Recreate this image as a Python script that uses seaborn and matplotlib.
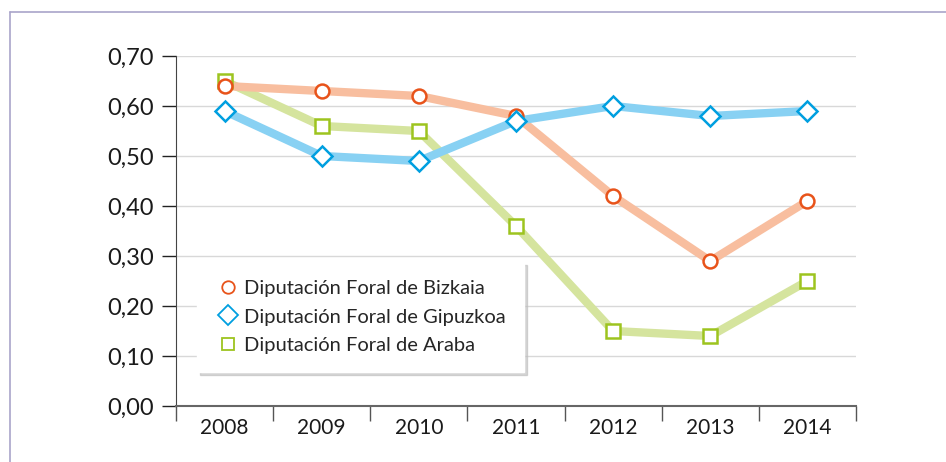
import matplotlib
matplotlib.use("Agg")
import matplotlib.pyplot as plt
from matplotlib.lines import Line2D
from matplotlib.ticker import FixedLocator, FuncFormatter
import seaborn as sns

# datos
anios = ["2008", "2009", "2010", "2011", "2012", "2013", "2014"]
bizkaia = [0.64, 0.63, 0.62, 0.58, 0.42, 0.29, 0.41]
gipuzkoa = [0.59, 0.50, 0.49, 0.57, 0.60, 0.58, 0.59]
araba = [0.65, 0.56, 0.55, 0.36, 0.15, 0.14, 0.25]
nombres = ["Diputación Foral de Bizkaia", "Diputación Foral de Gipuzkoa", "Diputación Foral de Araba"]

sns.set_style("white")
plt.rcParams['font.family'] = ['Lato', 'DejaVu Sans']

fig = plt.figure(figsize=(9.46, 4.62), dpi=100)
ax = fig.add_axes([176 / 946, 1 - 406 / 462, 680 / 946, 350 / 462])

pos = list(range(len(anios)))
series = [
    (araba, "#D5E49E", "#9DC41F", "s", 10),
    (bizkaia, "#F8BE9F", "#E8531A", "o", 10),
    (gipuzkoa, "#88D1F3", "#009FE0", "D", 10),
]
for vals, c_linea, c_marca, m, ms in series:
    sns.lineplot(x=pos, y=vals, ax=ax, color=c_linea, linewidth=6, zorder=2)
for vals, c_linea, c_marca, m, ms in series:
    sns.lineplot(x=pos, y=vals, ax=ax, linestyle="none", marker=m, markersize=ms,
                 markerfacecolor="white", markeredgecolor=c_marca, markeredgewidth=1.8,
                 zorder=3)

ax.set_xlim(-0.5, 6.5)
ax.set_ylim(0, 0.70)
ax.set_yticks([i / 10 for i in range(8)])
ax.yaxis.set_major_formatter(FuncFormatter(lambda v, p: f"{v:.2f}".replace(".", ",")))
ax.set_xticks(pos)
ax.set_xticklabels(anios)
ax.xaxis.set_minor_locator(FixedLocator([p - 0.5 for p in range(len(anios) + 1)]))
ax.tick_params(axis="x", which="both", bottom=True)
ax.tick_params(axis="x", which="major", length=0, pad=9, labelsize=15, labelcolor="#1a1a1a")
ax.tick_params(axis="x", which="minor", length=11, width=1, color="#555555", direction="out")
ax.tick_params(axis="y", left=True, length=10, width=1, color="#222222", direction="out", pad=6,
               labelsize=17, labelcolor="#1a1a1a")
ax.grid(axis="y", color="#D8D8D8", linewidth=1)
ax.set_axisbelow(True)
for lado in ["top", "right"]:
    ax.spines[lado].set_visible(False)
ax.spines["left"].set_color("#444444")
ax.spines["bottom"].set_color("#666666")
ax.spines["bottom"].set_linewidth(1.5)
ax.set_xlabel("")
ax.set_ylabel("")

# leyenda
handles = [
    Line2D([], [], linestyle="none", marker="o", markersize=9, markerfacecolor="white",
           markeredgecolor="#E8531A", markeredgewidth=1.3),
    Line2D([], [], linestyle="none", marker="D", markersize=10, markerfacecolor="white",
           markeredgecolor="#009FE0", markeredgewidth=1.3),
    Line2D([], [], linestyle="none", marker="s", markersize=9, markerfacecolor="white",
           markeredgecolor="#9DC41F", markeredgewidth=1.3),
]
leg = ax.legend(handles, nombres, loc="upper left", bbox_to_anchor=(0.031, 0.411),
                borderaxespad=0, frameon=True, fancybox=False,
                shadow={"color": "#BBBBBB", "alpha": 0.6},
                fontsize=14.5, handletextpad=0.15, handlelength=1.3, borderpad=0.9,
                labelspacing=0.55)
leg.get_frame().set_edgecolor("white")
leg.get_frame().set_facecolor("white")
leg.get_frame().set_alpha(1)

# marco exterior
fig.add_artist(Line2D([10 / 946, 10 / 946], [0, 1 - 12 / 462], transform=fig.transFigure,
                      color="#A9A4CA", linewidth=1.2))
fig.add_artist(Line2D([10 / 946, 1], [1 - 12 / 462, 1 - 12 / 462], transform=fig.transFigure,
                      color="#A9A4CA", linewidth=1.2))

fig.savefig("out.png", dpi=100)
